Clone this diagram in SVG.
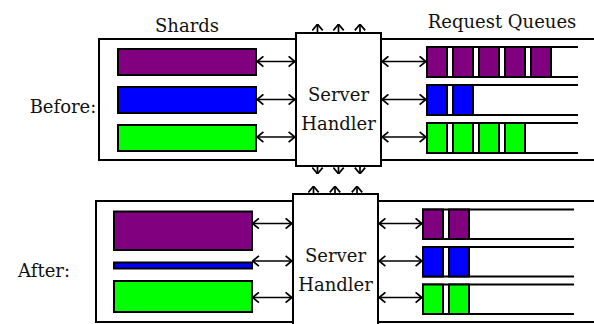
<svg xmlns="http://www.w3.org/2000/svg" width="594" height="324" viewBox="0 0 594 324">
  <style>
    text { font-family: "DejaVu Serif", "Liberation Serif", serif; font-size: 18px; fill: #111; }
    .frame { fill: none; stroke: #000; stroke-width: 2; }
    .box { fill: #fff; stroke: #000; stroke-width: 2; }
    .bar { stroke: #000; stroke-width: 2; }
    .purple { fill: #800080; }
    .blue { fill: #0000ff; }
    .green { fill: #00ff00; }
    .chan { stroke: #000; stroke-width: 2; fill: none; }
    .arr { stroke: #000; stroke-width: 1.7; fill: none; marker-end: url(#head); marker-start: url(#head); }
    .stub { stroke: #000; stroke-width: 1.7; fill: none; marker-end: url(#head); }
  </style>
  <defs>
    <marker id="head" viewBox="0 0 8 12" refX="7.6" refY="6" markerWidth="8" markerHeight="12" markerUnits="userSpaceOnUse" orient="auto-start-reverse">
      <path d="M1.2,0.8 L7.4,6 L1.2,11.2" fill="none" stroke="#000" stroke-width="1.7"/>
    </marker>
  </defs>

  <!-- headings -->
  <text x="187" y="32" text-anchor="middle">Shards</text>
  <text x="502" y="28" text-anchor="middle">Request Queues</text>
  <text x="63" y="113" text-anchor="middle">Before:</text>
  <text x="44" y="277" text-anchor="middle">After:</text>

  <!-- Before: system frame -->
  <g id="before-frame">
    <rect class="frame" x="99" y="39" width="520" height="121"/>
  </g>

  <g id="before-shards">
    <rect class="bar purple" x="118" y="49" width="138" height="26"/>
    <rect class="bar blue" x="118" y="87" width="138" height="26"/>
    <rect class="bar green" x="118" y="125" width="138" height="26"/>
  </g>

  <g id="before-queues">
    <path class="chan" d="M426,47 H578 M426,77 H578 M426,85 H578 M426,115 H578 M426,123 H578 M426,153 H578"/>
    <rect class="bar purple" x="427" y="47" width="20" height="30"/>
    <rect class="bar purple" x="453" y="47" width="20" height="30"/>
    <rect class="bar purple" x="479" y="47" width="20" height="30"/>
    <rect class="bar purple" x="505" y="47" width="20" height="30"/>
    <rect class="bar purple" x="531" y="47" width="20" height="30"/>
    <rect class="bar blue" x="427" y="85" width="20" height="30"/>
    <rect class="bar blue" x="453" y="85" width="20" height="30"/>
    <rect class="bar green" x="427" y="123" width="20" height="30"/>
    <rect class="bar green" x="453" y="123" width="20" height="30"/>
    <rect class="bar green" x="479" y="123" width="20" height="30"/>
    <rect class="bar green" x="505" y="123" width="20" height="30"/>
  </g>

  <g id="before-handler">
    <rect class="box" x="296" y="33" width="85" height="133"/>
    <text x="338.5" y="101" text-anchor="middle">Server</text>
    <text x="338.5" y="130" text-anchor="middle">Handler</text>
  </g>

  <!-- After: system frame -->
  <g id="after-frame">
    <rect class="frame" x="96" y="201" width="520" height="121"/>
  </g>

  <g id="after-shards">
    <rect class="bar purple" x="114" y="211.5" width="138" height="38.5"/>
    <rect class="bar blue" x="114" y="262.5" width="138" height="6"/>
    <rect class="bar green" x="114" y="281" width="138" height="31"/>
  </g>

  <g id="after-queues">
    <path class="chan" d="M422,209.5 H574 M422,239 H574 M422,247 H574 M422,276.5 H574 M422,284.5 H574 M422,314 H574"/>
    <rect class="bar purple" x="423" y="209.5" width="20" height="29.5"/>
    <rect class="bar purple" x="449" y="209.5" width="20" height="29.5"/>
    <rect class="bar blue" x="423" y="247" width="20" height="29.5"/>
    <rect class="bar blue" x="449" y="247" width="20" height="29.5"/>
    <rect class="bar green" x="423" y="284.5" width="20" height="29.5"/>
    <rect class="bar green" x="449" y="284.5" width="20" height="29.5"/>
  </g>

  <g id="after-handler">
    <rect class="box" x="293" y="194" width="85" height="200"/>
    <text x="335.5" y="262" text-anchor="middle">Server</text>
    <text x="335.5" y="291" text-anchor="middle">Handler</text>
  </g>

  <!-- connectors -->
  <g id="connectors">
    <!-- Before: shards to handler -->
    <path class="arr" d="M257,61.5 H295"/>
    <path class="arr" d="M257,99.5 H295"/>
    <path class="arr" d="M257,137 H295"/>
    <!-- Before: handler to queues -->
    <path class="arr" d="M382,61.5 H426"/>
    <path class="arr" d="M382,99.5 H426"/>
    <path class="arr" d="M382,137 H426"/>
    <!-- Before: handler outbound -->
    <path class="stub" d="M317.5,32 V24"/>
    <path class="stub" d="M338.5,32 V24"/>
    <path class="stub" d="M360,32 V24"/>
    <path class="stub" d="M317.5,167 V174"/>
    <path class="stub" d="M338.5,167 V174"/>
    <path class="stub" d="M360,167 V174"/>
    <!-- After: shards to handler -->
    <path class="arr" d="M252.5,223.5 H292"/>
    <path class="arr" d="M252.5,261 H292"/>
    <path class="arr" d="M252.5,297.5 H292"/>
    <!-- After: handler to queues -->
    <path class="arr" d="M379,223.5 H422"/>
    <path class="arr" d="M379,261 H422"/>
    <path class="arr" d="M379,297.5 H422"/>
    <!-- After: handler inbound -->
    <path class="stub" d="M313.5,193 V186"/>
    <path class="stub" d="M335,193 V186"/>
    <path class="stub" d="M357,193 V186"/>
  </g>
</svg>
